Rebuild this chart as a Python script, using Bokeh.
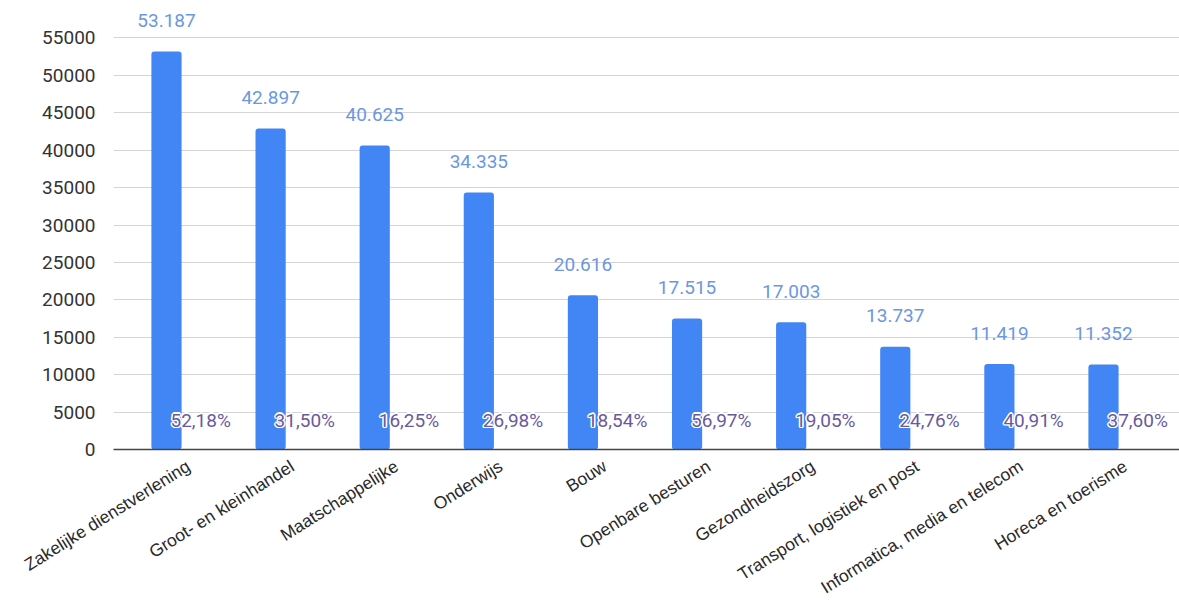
from bokeh.plotting import figure
from bokeh.models import ColumnDataSource, Range1d, FixedTicker
from bokeh.core.properties import value
from bokeh.embed import file_html
from bokeh.resources import INLINE

categories = [
    "Zakelijke dienstverlening",
    "Groot- en kleinhandel",
    "Maatschappelijke",
    "Onderwijs",
    "Bouw",
    "Openbare besturen",
    "Gezondheidszorg",
    "Transport, logistiek en post",
    "Informatica, media en telecom",
    "Horeca en toerisme",
]
values = [53187, 42897, 40625, 34335, 20616, 17515, 17003, 13737, 11419, 11352]
percent_labels = ["52,18%", "31,50%", "16,25%", "26,98%", "18,54%",
                  "56,97%", "19,05%", "24,76%", "40,91%", "37,60%"]
y_ticks = [0, 5000, 10000, 15000, 20000, 25000, 30000, 35000, 40000, 45000, 50000, 55000]

xs = list(range(len(categories)))
value_labels = [f"{v:,}".replace(",", ".") for v in values]
PCT_Y = 3900        # vertical position of the percentage labels
LABEL_SHIFT = 0.21  # sloped category labels sit slightly right of the bar centre

src = ColumnDataSource(dict(x=xs, top=values, vlab=value_labels, plab=percent_labels,
                            py=[PCT_Y] * len(xs)))

p = figure(frame_width=1066, frame_height=449,
           x_range=Range1d(-0.509, 9.73), y_range=Range1d(0, 60000),
           output_backend="svg", toolbar_location=None,
           min_border_left=113, min_border_right=0, min_border_top=0)
p.outline_line_color = None
p.background_fill_color = "white"

p.vbar(x="x", top="top", width=0.29, source=src, fill_color="#4285f4",
       line_color=None, border_radius=3)

p.text(x="x", y="top", text="vlab", source=src, text_align="center",
       text_baseline="middle", y_offset=-31, text_color="#6b97e2",
       text_font=value("Roboto"), text_font_size="19px")

halo = [(-1.5, 0), (1.5, 0), (0, -1.5), (0, 1.5), (-1, -1), (1, 1), (-1, 1), (1, -1)]
for dx, dy in halo:
    p.text(x="x", y="py", text="plab", source=src, text_align="left",
           text_baseline="middle", x_offset=4 + dx, y_offset=dy, text_color="white",
           text_font=value("Roboto"), text_font_size="19px")
p.text(x="x", y="py", text="plab", source=src, text_align="left",
       text_baseline="middle", x_offset=4, text_color="#6a5a9c",
       text_font=value("Roboto"), text_font_size="19px")

p.xgrid.grid_line_color = None
p.ygrid.grid_line_color = "#d4d4d4"
p.ygrid.grid_line_width = 1

p.yaxis.ticker = FixedTicker(ticks=y_ticks)
p.yaxis.axis_line_color = None
p.yaxis.major_tick_line_color = None
p.yaxis.minor_tick_line_color = None
p.yaxis.major_label_text_font = "Roboto"
p.yaxis.major_label_text_font_size = "19px"
p.yaxis.major_label_text_color = "#333333"
p.yaxis.major_label_standoff = 12

label_pos = [x + LABEL_SHIFT for x in xs]
p.xaxis.ticker = FixedTicker(ticks=label_pos)
p.xaxis.major_label_overrides = {pos: c for pos, c in zip(label_pos, categories)}
p.xaxis.axis_line_color = "#444444"
p.xaxis.axis_line_width = 1.5
p.xaxis.major_tick_line_color = None
p.xaxis.minor_tick_line_color = None
p.xaxis.major_label_orientation = 0.56
p.xaxis.major_label_text_font = "Liberation Sans"
p.xaxis.major_label_text_font_size = "17.5px"
p.xaxis.major_label_text_color = "#2a2a2a"
p.xaxis.major_label_standoff = 9

html = file_html(p, INLINE)
html = html.replace("</head>",
                    "<style>html, body { margin: 0; padding: 0; overflow: hidden; }</style></head>", 1)
open("out.html", "w").write(html)
